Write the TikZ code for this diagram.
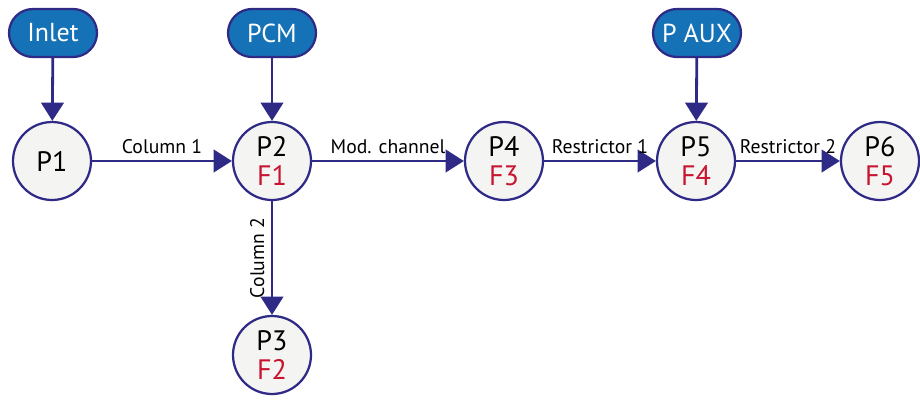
\documentclass[tikz,border=0pt]{standalone}
\usepackage{fontspec}
\setmainfont{PT Sans}
\usetikzlibrary{arrows.meta}

\definecolor{navy}{RGB}{46,42,133}
\definecolor{boxblue}{RGB}{22,114,183}
\definecolor{fred}{RGB}{200,20,46}
\definecolor{cfill}{RGB}{244,244,243}

\tikzset{
  pnode/.style={circle, draw=navy, fill=cfill, line width=1.6pt,
    minimum size=1.95cm, inner sep=0pt, align=center,
    font=\fontsize{20}{21}\selectfont},
  srcbox/.style={draw=navy, fill=boxblue, line width=1.6pt,
    rounded corners=0.6cm, minimum width=2.2cm, minimum height=1.2cm,
    text=white, font=\fontsize{18.5}{20}\selectfont},
  flow/.style={-{Triangle[length=13pt, width=16pt]}, draw=navy, line width=2pt},
  flowlabel/.style={font=\fontsize{14}{16}\selectfont, inner sep=4.5pt}
}

\begin{document}
\begin{tikzpicture}[>=stealth]
\useasboundingbox (0,0) rectangle (23,9.975);

%------------------ SOURCES ------------------%
\node[srcbox] (inlet) at (1.325,9.15)  {Inlet};
\node[srcbox] (pcm)   at (6.8,9.15)    {PCM};
\node[srcbox] (paux)  at (17.425,9.15) {P AUX};

%------------------ PRESSURE NODES ------------------%
\node[pnode] (P1) at (1.3,5.95)    {P1};
\node[pnode] (P2) at (6.8,5.95)    {P2\\\textcolor{fred}{F1}};
\node[pnode] (P3) at (6.8,1.1)     {P3\\\textcolor{fred}{F2}};
\node[pnode] (P4) at (12.6,5.95)   {P4\\\textcolor{fred}{F3}};
\node[pnode] (P5) at (17.4,5.95)   {P5\\\textcolor{fred}{F4}};
\node[pnode] (P6) at (22.0,5.95)   {P6\\\textcolor{fred}{F5}};

%------------------ CONNECTIONS ------------------%
\draw[flow] (inlet) -- (P1);
\draw[flow] (pcm)   -- (P2);
\draw[flow] (paux)  -- (P5);

\draw[flow] (P1) -- (P2) node[midway, above, flowlabel] {Column 1};
\draw[flow] (P2) -- (P4) node[midway, above, flowlabel] {Mod. channel};
\draw[flow] (P4) -- (P5) node[midway, above, flowlabel] {Restrictor 1};
\draw[flow] (P5) -- (P6) node[midway, above, flowlabel] {Restrictor 2};
\draw[flow] (P2) -- (P3) node[midway, rotate=90, anchor=south, flowlabel] {Column 2};

\end{tikzpicture}
\end{document}
